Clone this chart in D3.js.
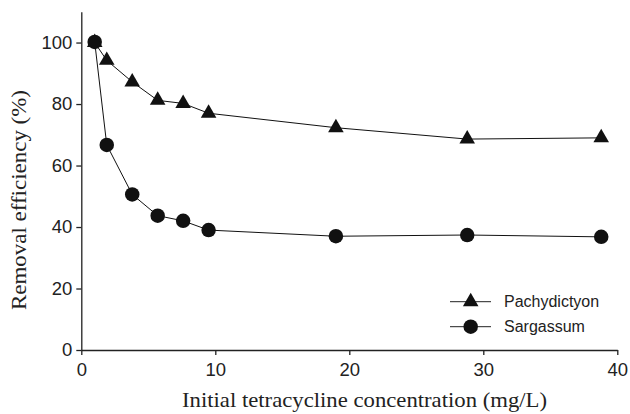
<!DOCTYPE html>
<html><head><meta charset="utf-8">
<script src="https://cdnjs.cloudflare.com/ajax/libs/d3/7.8.5/d3.min.js"></script>
<style>body{margin:0;background:#fff}svg{display:block}</style>
</head><body>
<svg id="c" width="630" height="414"></svg>
<script>
const concentrations = [1, 1.9, 3.8, 5.7, 7.6, 9.5, 19, 28.8, 38.8];
const pachydictyon = [100, 94.2, 87.2, 81.2, 80.2, 77.0, 72.3, 68.6, 69.0];
const sargassum = [100.2, 66.7, 50.6, 43.7, 42.0, 39.0, 37.0, 37.4, 36.8];
const seriesNames = ["Pachydictyon", "Sargassum"];
const xTicks = [0, 10, 20, 30, 40];
const yTicks = [0, 20, 40, 60, 80, 100];

const svg = d3.select("#c");
const x = d3.scaleLinear().domain([0, 40]).range([81.3, 617.3]);
const y = d3.scaleLinear().domain([0, 110]).range([350, 11.8]);

const sans = "Arial, 'Liberation Sans', Helvetica, sans-serif";
const serif = "'Times New Roman', 'Liberation Serif', Times, serif";

const xAxis = svg.append("g").attr("transform", "translate(0,350)")
  .call(d3.axisBottom(x).tickValues(xTicks).tickSize(5).tickPadding(8).tickSizeOuter(0));
const yAxis = svg.append("g").attr("transform", "translate(81.3,0)")
  .call(d3.axisLeft(y).tickValues(yTicks).tickSize(5).tickPadding(4).tickSizeOuter(0));
[xAxis, yAxis].forEach(a => {
  a.selectAll("path,line").attr("stroke", "#222").attr("stroke-width", 1.3);
  a.selectAll("text").attr("font-family", sans).attr("font-size", 18.5).attr("fill", "#222");
});

const line = d3.line().x((d, i) => x(concentrations[i])).y(d => y(d));
[pachydictyon, sargassum].forEach(s => {
  svg.append("path").datum(s).attr("d", line).attr("fill", "none")
    .attr("stroke", "#111").attr("stroke-width", 1);
});

const tri = d3.symbol().type(d3.symbolTriangle).size(105);
const circ = d3.symbol().type(d3.symbolCircle).size(165);

svg.selectAll(".s").data(sargassum).join("path")
  .attr("transform", (d, i) => `translate(${x(concentrations[i])},${y(d)})`)
  .attr("d", circ).attr("fill", "#111");
svg.selectAll(".p").data(pachydictyon).join("path")
  .attr("transform", (d, i) => `translate(${x(concentrations[i])},${y(d)})`)
  .attr("d", tri).attr("fill", "#111");

// legend
const legY = [301.7, 326.7];
const syms = [tri, circ];
seriesNames.forEach((n, i) => {
  svg.append("line").attr("x1", 450).attr("x2", 491).attr("y1", legY[i]).attr("y2", legY[i])
    .attr("stroke", "#222").attr("stroke-width", 1);
  svg.append("path").attr("d", syms[i]).attr("transform", `translate(470.7,${legY[i]})`).attr("fill", "#111");
  svg.append("text").attr("x", 504).attr("y", legY[i]).attr("dy", "0.35em")
    .attr("font-family", sans).attr("font-size", 16).attr("fill", "#222").text(n);
});

svg.append("text").attr("x", 364.5).attr("y", 407).attr("text-anchor", "middle")
  .attr("font-family", serif).attr("font-size", 21).attr("fill", "#222")
  .attr("textLength", 365).attr("lengthAdjust", "spacingAndGlyphs")
  .text("Initial tetracycline concentration (mg/L)");
svg.append("text").attr("transform", "translate(25.5,200) rotate(-90)").attr("text-anchor", "middle")
  .attr("font-family", serif).attr("font-size", 21).attr("fill", "#222")
  .attr("textLength", 220).attr("lengthAdjust", "spacingAndGlyphs")
  .text("Removal efficiency (%)");
</script>
</body></html>
